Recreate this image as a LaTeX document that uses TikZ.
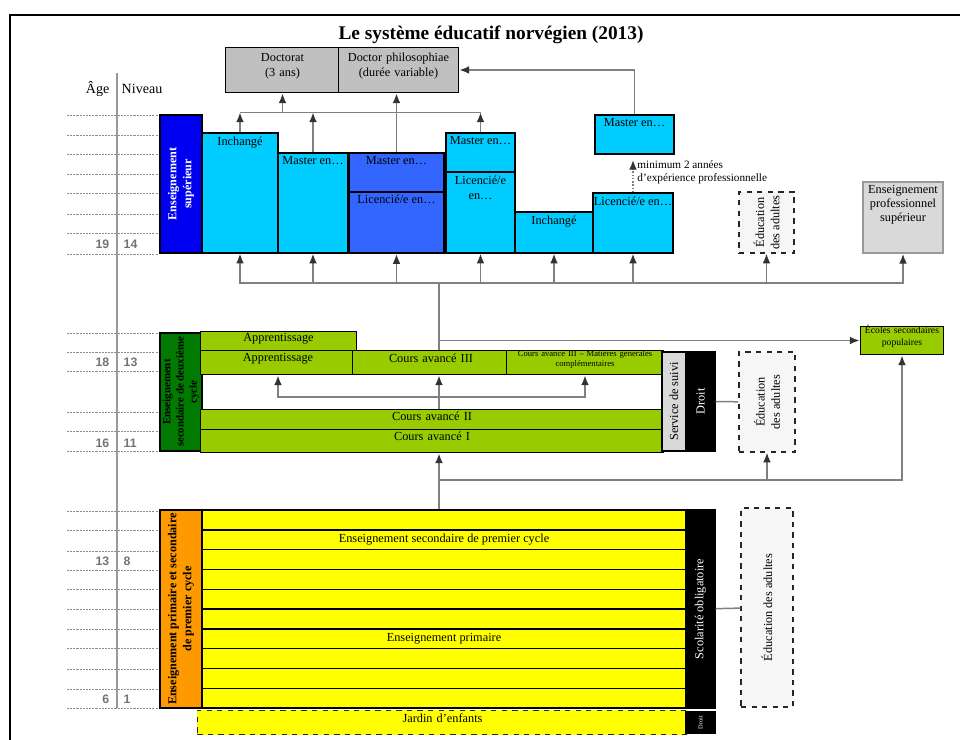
\documentclass[tikz,border=0pt]{standalone}
\usepackage{fontspec}
\setmainfont{Liberation Serif}
\newfontfamily\agefont{Liberation Sans}
\usetikzlibrary{arrows.meta,positioning,fit,calc}
\definecolor{cyanbox}{HTML}{00CCFF}
\definecolor{bluebox}{HTML}{3366FF}
\definecolor{bluehead}{HTML}{0000F0}
\definecolor{greenbox}{HTML}{99CC00}
\definecolor{greenhead}{HTML}{007A00}
\definecolor{orangehead}{HTML}{FF9900}
\definecolor{yellowbox}{HTML}{FFFF00}
\definecolor{graybox}{HTML}{C0C0C0}
\definecolor{lightbox}{HTML}{D9D9D9}
\definecolor{adultbox}{HTML}{F6F6F6}
\definecolor{linkgray}{HTML}{808080}
\tikzset{every picture/.style={line width=0.8pt},
  box/.style={draw, inner sep=0pt, fill=#1},
  dashbox/.style={draw=black!85, dashed, inner sep=0pt, fill=#1},
  txt/.style={font=\fontsize{7}{8.6}\selectfont, inner sep=1pt, align=center},
  vtxt/.style={txt, rotate=90},
  headtxt/.style={vtxt, font=\bfseries\fontsize{6.9}{8.5}\selectfont},
  link/.style={draw=linkgray, line width=0.85pt},
  arr/.style={link, -{Latex[length=5.5pt,width=4.4pt,color=black!80]}},
  agerule/.style={draw=black!45, dash pattern=on 1.2pt off 0.6pt, line width=0.5pt},
  age/.style={font=\agefont\bfseries\fontsize{7}{8}\selectfont, text=black!55, inner sep=0pt}}

\begin{document}
\begin{tikzpicture}[x=0.02cm, y=-0.02cm]
    \useasboundingbox (0,0) rectangle (960,740);
    \draw[line width=1.2pt] (10,740) |- (960,15);
    \node[font=\bfseries\fontsize{11}{13}\selectfont] (title) at (491,35) {Le système éducatif norvégien (2013)};

    % echelle des ages
    \node[font=\fontsize{8}{9}\selectfont, anchor=east, inner sep=0pt] (agehd) at (110,89) {Âge};
    \node[font=\fontsize{8}{9}\selectfont, anchor=west, inner sep=0pt] (nivhd) at (121,89) {Niveau};
    \coordinate (scaletop) at (117,73);
    \coordinate (scalebot) at (117,708);
    \draw[draw=black!40, line width=0.9pt] (scaletop) -- (scalebot);
    \foreach \y in {115,135,154,174,193,214,233,254,333,352,371,412,431,451,511,530,551,570,589,609,629,648,669,689,708}
        \draw[agerule] (67,\y) -- (158,\y);
    \foreach \y/\a/\n in {244/19/14, 362/18/13, 443/16/11, 561/13/8, 699/6/1} {
        \node[age, anchor=east] (a\a) at (110,\y) {\a};
        \node[age, anchor=west] (n\n) at (123,\y) {\n};
    }

    % doctorats
    \node[box=graybox, fit={(227,49) (338,91)}, txt] (doct) {Doctorat\\(3 ans)};
    \node[box=graybox, fit={(340,49) (457,91)}, txt] (dphil) {Doctor philosophiae\\(durée variable)};

    % enseignement superieur
    \node[box=bluehead, fit={(160,115) (202,253)}] (hes) {};
    \node[headtxt, text=white] (hesT) at (hes) {Enseignement\\supérieur};
    \node[box=cyanbox, fit={(202,133) (278,253)}] (inch1) {};
    \node[txt, below=1pt of inch1.north] (inch1T) {Inchangé};
    \node[box=cyanbox, fit={(278,153) (348,253)}] (mas1) {};
    \node[txt, below=1pt of mas1.north] (mas1T) {Master en…};
    \node[box=bluebox, line width=1.3pt, fit={(349,153) (444,192)}] (mas2) {};
    \node[txt, below=1pt of mas2.north] (mas2T) {Master en…};
    \node[box=bluebox, line width=1.3pt, fit={(349,192) (444,253)}] (lic2) {};
    \node[txt, below=1pt of lic2.north] (lic2T) {Licencié/e en…};
    \node[box=cyanbox, fit={(446,133) (515,172)}] (mas3) {};
    \node[txt, below=1pt of mas3.north] (mas3T) {Master en…};
    \node[box=cyanbox, fit={(446,172) (515,253)}] (lic3) {};
    \node[txt, below=1pt of lic3.north] (lic3T) {Licencié/e\\en…};
    \node[box=cyanbox, fit={(515,212) (593,253)}] (inch2) {};
    \node[txt, below=1pt of inch2.north] (inch2T) {Inchangé};
    \node[box=cyanbox, fit={(593,193) (673,253)}] (lic4) {};
    \node[txt, below=1pt of lic4.north] (lic4T) {Licencié/e en…};
    \node[box=cyanbox, fit={(595,115) (674,154)}] (mas4) {};
    \node[txt, below=1pt of mas4.north] (mas4T) {Master en…};
    \node[dashbox=adultbox, fit={(739,192) (794,253)}] (eduA) {};
    \node[vtxt] (eduAT) at (eduA) {Éducation\\des adultes};
    \node[box=lightbox, draw=black!40, line width=1pt, fit={(863,182) (943,253)}] (eps) {};
    \node[txt, font=\fontsize{7}{8}\selectfont, below=1pt of eps.north] (epsT) {Enseignement\\professionnel\\supérieur};

    \draw[arr, densely dotted, shorten >=3pt] (lic4.north) -- (lic4.north |- mas4.south);
    \node[txt, font=\fontsize{6.4}{7.4}\selectfont, anchor=west, align=left] (minT) at (635,172) {minimum 2 années\\d’expérience professionnelle};

    % vers les doctorats
    \path (doct.south) ++(0,19) coordinate (busT);
    \foreach \b in {inch1,mas1,mas3}
        \draw[arr] (\b.north) -- (\b.north |- busT);
    \draw[link] (inch1.north |- busT) -- (mas3.north |- busT);
    \draw[arr] (busT) -- (doct.south);
    \draw[arr] (mas2.north) -- (mas2.north |- dphil.south);
    \draw[arr] (mas4.north) |- (dphil.east);

    % secondaire deuxieme cycle
    \node[box=greenhead, fit={(160,333) (202,451)}] (hsec) {};
    \node[headtxt, font=\bfseries\fontsize{6.2}{7.5}\selectfont] (hsecT) at (hsec) {Enseignement\\secondaire de deuxième\\cycle};
    \node[box=greenbox, fit={(202,333) (355,352)}, txt] (app1) {Apprentissage};
    \node[box=greenbox, fit={(202,352) (354,373)}, txt] (app2) {Apprentissage};
    \node[box=greenbox, fit={(354,352) (508,373)}, txt] (cav3) {Cours avancé III};
    \node[box=greenbox, fit={(508,352) (662,373)}, txt, font=\fontsize{4.9}{5.7}\selectfont] (cav3m) {Cours avancé III – Matières générales\\complémentaires};
    \node[box=greenbox, fit={(202,411) (662,431)}, txt] (cav2) {Cours avancé II};
    \node[box=greenbox, fit={(202,431) (662,451)}, txt] (cav1) {Cours avancé I};
    \node[box=lightbox, fit={(662,352) (686,451)}] (serv) {};
    \node[vtxt] (servT) at (serv) {Service de suivi};
    \node[box=black, fit={(686,352) (715,451)}] (droit) {};
    \node[vtxt, text=white] (droitT) at (droit) {Droit};
    \node[dashbox=adultbox, fit={(739,352) (795,452)}] (eduB) {};
    \node[vtxt] (eduBT) at (eduB) {Éducation\\des adultes};
    \node[box=greenbox, fit={(862,328) (942,353)}, txt, font=\fontsize{5.5}{6.5}\selectfont] (esp) {Écoles secondaires\\populaires};

    % primaire et premier cycle
    \node[box=orangehead, fit={(160,510) (202,708)}] (prim) {};
    \node[headtxt] (primT) at (prim) {Enseignement primaire et secondaire\\de premier cycle};
    \foreach \i in {0,...,9} {
        \pgfmathsetmacro\ya{510+19.8*\i}
        \pgfmathsetmacro\yb{510+19.8*(\i+1)}
        \node[box=yellowbox, fit={(202,\ya) (686,\yb)}] (row\i) {};
    }
    \node[txt] (row1T) at (row1) {Enseignement secondaire de premier cycle};
    \node[txt] (row6T) at (row6) {Enseignement primaire};
    \node[box=black, fit={(686,510) (715,708)}] (scol) {};
    \node[vtxt, text=white] (scolT) at (scol) {Scolarité obligatoire};
    \node[dashbox=adultbox, fit={(741,508) (793,707)}] (eduC) {};
    \node[vtxt] (eduCT) at (eduC) {Éducation des adultes};
    \node[dashbox=yellowbox, fit={(199,712) (686,733)}, txt] (jard) {Jardin d’enfants};
    \node[box=black, fit={(686,712) (715,733)}] (droit2) {};
    \node[vtxt, text=white, font=\fontsize{3.6}{4}\selectfont] (droit2T) at (droit2) {Droit};

    % liaisons
    \coordinate (busM) at (439,283);
    \foreach \b in {inch1,mas1,lic2,lic3,inch2,lic4,eduA,eps}
        \draw[arr] (busM) -| (\b.south);
    \draw[link] (busM) -- (busM |- cav3.north);
    \draw[arr] (busM |- esp.west) -- (esp.west);
    \coordinate (busI) at (439,397);
    \draw[arr] (busI |- cav2.north) -- (busI |- cav3.south);
    \draw[arr] (busI) -| (app2.south);
    \draw[arr] (busI) -| (cav3m.south);
    \coordinate (busB) at (439,480);
    \draw[link] (busB |- row0.north) -- (busB);
    \draw[arr] (busB) -- (busB |- cav1.south);
    \draw[arr] (busB) -| (eduB.south);
    \draw[arr] (busB) -| (esp.south);
    \draw[link] (droit) -- (eduB);
    \draw[link] (scol) -- (eduC);
\end{tikzpicture}
\end{document}
